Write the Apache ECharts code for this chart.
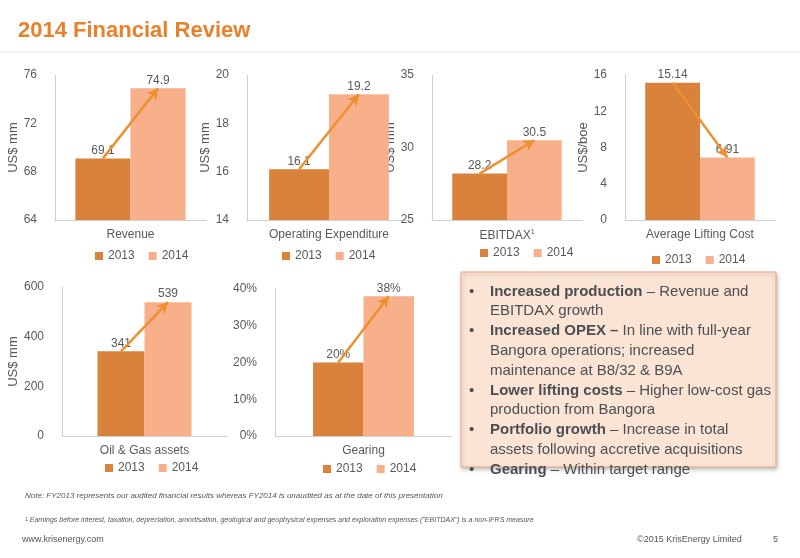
<!DOCTYPE html>
<html><head><meta charset="utf-8">
<script src="https://cdn.jsdelivr.net/npm/echarts@6/dist/echarts.min.js"></script>
<style>html,body{margin:0;padding:0;background:#fff}#c{width:800px;height:558px}</style>
</head><body><div id="c"></div>
<script>
const years = ['2013', '2014'];
const categories = ['Revenue', 'Operating Expenditure', 'EBITDAX', 'Average Lifting Cost', 'Oil & Gas assets', 'Gearing'];
const values2013 = [69.1, 16.1, 28.2, 15.14, 341, 20];
const values2014 = [74.9, 19.2, 30.5, 6.91, 539, 38];
const axisMin = [64, 14, 25, 0, 0, 0];
const axisMax = [76, 20, 35, 16, 600, 40];
const axisInterval = [4, 2, 5, 4, 200, 10];
const axisNames = ['US$ mm', 'US$ mm', 'US$ mm', 'US$/boe', 'US$ mm', ''];

const C13 = '#D9823B', C14 = '#F8B08B', ARROW = '#EE9030', TXT = '#595959';
const layout = [
  {l:55, r:206, t:75, b:220, gap:27, lx:135, ly:245, ng:30},
  {l:247, r:411, t:75, b:220, gap:27, lx:322, ly:245, ng:28},
  {l:432, r:582, t:75, b:220, gap:27, lx:520, ly:242, ng:26},
  {l:625, r:775, t:75, b:220, gap:27, lx:692, ly:249, ng:26},
  {l:62, r:227, t:287, b:436, gap:43, lx:145, ly:457, ng:34},
  {l:275, r:452, t:289, b:436, gap:43, lx:363, ly:458, ng:30}
];
const grid=[], xAxis=[], yAxis=[], series=[], legend=[];
layout.forEach((L,i)=>{
  grid.push({left:L.l, top:L.t, width:L.r-L.l, height:L.b-L.t});
  const pct = i===5;
  xAxis.push({type:'category', gridIndex:i, data:[categories[i]],
    axisLine:{lineStyle:{color:'#D0D0D0'}}, axisTick:{show:false},
    axisLabel:{color:TXT, fontSize:12, margin:9, fontFamily:'Liberation Sans',
      formatter: i===2 ? '{a|EBITDAX}{s|1}' : null,
      rich:{a:{color:TXT,fontSize:12,fontFamily:'Liberation Sans'},s:{color:TXT,fontSize:7,verticalAlign:'top',padding:[0,0,6,0]}}}});
  xAxis.push({type:'value', gridIndex:i, min:0, max:1, show:false});
  yAxis.push({type:'value', gridIndex:i, min:axisMin[i], max:axisMax[i], interval:axisInterval[i],
    name:axisNames[i], nameLocation:'middle', nameGap:L.ng, nameTextStyle:{color:TXT,fontSize:13,fontFamily:'Liberation Sans'},
    axisLine:{show:true, lineStyle:{color:'#D0D0D0'}}, axisTick:{show:false}, splitLine:{show:false},
    axisLabel:{color:TXT, fontSize:12, margin:18, fontFamily:'Liberation Sans', formatter: pct ? '{value}%' : '{value}'}});
  const lbl = {show:true, position:'top', distance:2, color:TXT, fontSize:12, fontFamily:'Liberation Sans', formatter: pct ? '{c}%' : '{c}'};
  series.push({type:'bar', name:'2013', xAxisIndex:2*i, yAxisIndex:i, data:[values2013[i]], itemStyle:{color:C13}, barGap:'0%', barCategoryGap:L.gap+'%', label:lbl});
  series.push({type:'bar', name:'2014', xAxisIndex:2*i, yAxisIndex:i, data:[values2014[i]], itemStyle:{color:C14}, barGap:'0%', barCategoryGap:L.gap+'%', label:lbl});
  const g = L.gap/100, w = (1-g)/2;
  const x1 = g/2 + w/2, x2 = g/2 + 1.5*w;
  series.push({type:'line', xAxisIndex:2*i+1, yAxisIndex:i, data:[], silent:true,
    markLine:{silent:true, symbol:['none','arrow'], symbolSize:[9,11], label:{show:false},
      lineStyle:{color:ARROW, width:2.5, type:'solid'},
      data:[[{coord:[x1, values2013[i]]},{coord:[x2, values2014[i]]}]]}});
  legend.push({data:years, left:L.lx-45, top:L.ly, itemWidth:8, itemHeight:8, icon:'rect', itemGap:14,
    textStyle:{color:TXT, fontSize:12, fontFamily:'Liberation Sans'}, selectedMode:false});
});
const bullets = [
  [['Increased production',' – Revenue and'],['','EBITDAX growth']],
  [['Increased OPEX –',' In line with full-year'],['','Bangora operations; increased'],['','maintenance at B8/32 & B9A']],
  [['Lower lifting costs',' – Higher low-cost gas'],['','production from Bangora']],
  [['Portfolio growth',' – Increase in total'],['','assets following accretive acquisitions']],
  [['Gearing',' – Within target range']]
];
const gr = [
  {type:'text', left:18, top:20, style:{text:'2014 Financial Review', fill:'#E8822A', font:'bold 22px Liberation Sans'}},
  {type:'line', shape:{x1:0,y1:52,x2:800,y2:52}, style:{stroke:'#E5E5E5', lineWidth:1}},
  {type:'rect', shape:{x:461,y:272,width:315,height:195}, style:{fill:'#FCE4D4', stroke:'#E9A988', lineWidth:1, shadowBlur:4, shadowColor:'rgba(0,0,0,0.25)', shadowOffsetX:1, shadowOffsetY:2}}
];
let ly = 284;
bullets.forEach(b=>{
  gr.push({type:'text', left:469, top:ly, style:{text:'•', fill:'#4A4F55', font:'15px Liberation Sans'}});
  b.forEach(line=>{
    gr.push({type:'text', left:490, top:ly, style:{text:'{b|'+line[0]+'}{n|'+line[1]+'}', rich:{
      b:{font:'bold 15px Liberation Sans', fill:'#4A4F55'}, n:{font:'15px Liberation Sans', fill:'#4A4F55'}}}});
    ly += 19.8;
  });
});
gr.push({type:'text', left:25, top:492, style:{text:'Note: FY2013 represents our audited financial results whereas FY2014 is unaudited as at the date of this presentation', fill:'#555', font:'italic 8px Liberation Sans'}});
gr.push({type:'text', left:25, top:517, style:{text:'{s|1} Earnings before interest, taxation, depreciation, amortisation, geological and geophysical expenses and exploration expenses ("EBITDAX") is a non-IFRS measure', rich:{s:{font:'5px Liberation Sans',fill:'#555',verticalAlign:'top'}}, fill:'#555', font:'italic 7px Liberation Sans'}});
gr.push({type:'text', left:22, top:535, style:{text:'www.krisenergy.com', fill:'#555', font:'9px Liberation Sans'}});
gr.push({type:'text', left:637, top:535, style:{text:'©2015 KrisEnergy Limited', fill:'#555', font:'9px Liberation Sans'}});
gr.push({type:'text', left:773, top:535, style:{text:'5', fill:'#555', font:'9px Liberation Sans'}});
const chart = echarts.init(document.getElementById('c'));
chart.setOption({animation:false, backgroundColor:'#fff', grid, xAxis, yAxis, series, legend, graphic:gr});
</script></body></html>
